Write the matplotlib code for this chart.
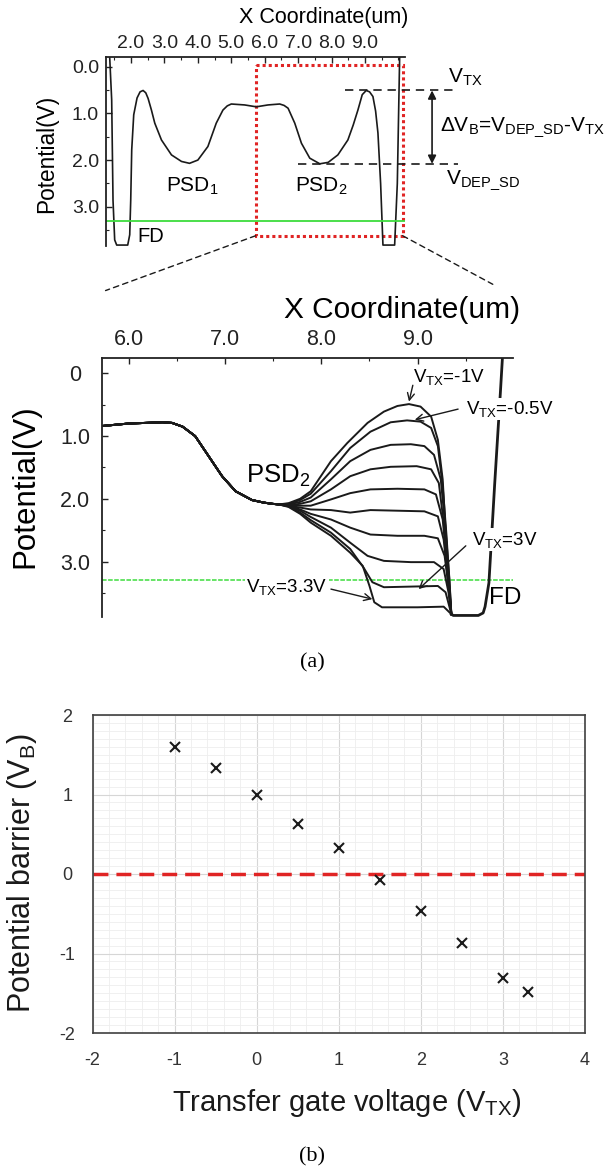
import matplotlib
matplotlib.use("Agg")
import matplotlib.pyplot as plt
from matplotlib.patches import Rectangle, ConnectionPatch
from matplotlib.ticker import MultipleLocator

plt.rcParams['font.family'] = ['Liberation Sans', 'DejaVu Sans']
plt.rcParams['mathtext.fontset'] = 'custom'
plt.rcParams['mathtext.rm'] = 'Liberation Sans'
plt.rcParams['axes.unicode_minus'] = False

# ---- data -------------------------------------------------------------
# overview potential profile (top panel), x in um, potential in V
overview_x = [1.36, 1.42, 1.46, 1.51, 1.57, 1.90, 1.96, 1.99, 2.02, 2.08, 2.18,
              2.27, 2.36, 2.44, 2.51, 2.61, 2.71, 2.91, 3.21, 3.51, 3.75, 4.00,
              4.30, 4.55, 4.75, 4.88, 5.00, 5.40, 5.75, 6.10, 6.45, 6.58, 6.70,
              6.90, 7.10, 7.35, 7.65, 7.90, 8.19, 8.49, 8.65, 8.79, 8.92, 9.04,
              9.14, 9.24, 9.32, 9.39, 9.47, 9.54, 9.89, 9.97, 10.04]
overview_y = [-0.21, 0.71, 2.86, 3.71, 3.82, 3.82, 3.60, 2.86, 1.78, 1.03, 0.67,
              0.54, 0.51, 0.56, 0.68, 0.93, 1.21, 1.57, 1.89, 2.03, 2.07, 2.00,
              1.71, 1.21, 0.93, 0.84, 0.80, 0.82, 0.86, 0.82, 0.80, 0.83, 0.89,
              1.21, 1.64, 1.96, 2.08, 2.05, 1.89, 1.57, 1.25, 0.93, 0.60, 0.51,
              0.54, 0.64, 0.95, 1.42, 2.50, 3.82, 3.82, 2.50, -0.21]

# zoomed PSD2 region: shared part of every curve
psd2_x = [5.72, 6.00, 6.35, 6.45, 6.56, 6.69, 6.83, 6.97, 7.11, 7.28, 7.40, 7.49, 7.56]
psd2_y = [0.84, 0.80, 0.78, 0.79, 0.85, 1.00, 1.32, 1.64, 1.88, 2.02, 2.06, 2.08, 2.09]

vtx_levels = [-1, -0.5, 0, 0.5, 1, 1.5, 2, 2.5, 3, 3.3]
fan_x = [
    [7.66, 7.78, 7.89, 8.10, 8.27, 8.48, 8.65, 8.79, 8.91, 9.03, 9.14, 9.21, 9.26, 9.29, 9.33, 9.35],
    [7.66, 7.78, 7.89, 8.10, 8.30, 8.51, 8.72, 8.89, 9.03, 9.14, 9.21, 9.26, 9.30, 9.33, 9.35],
    [7.66, 7.78, 7.89, 8.10, 8.30, 8.51, 8.72, 8.93, 9.07, 9.17, 9.24, 9.29, 9.32, 9.35],
    [7.66, 7.78, 7.89, 8.10, 8.30, 8.51, 8.72, 8.99, 9.14, 9.22, 9.27, 9.32, 9.35],
    [7.66, 7.78, 7.89, 8.10, 8.30, 8.51, 8.79, 9.07, 9.19, 9.26, 9.31, 9.35],
    [7.66, 7.78, 7.89, 8.10, 8.30, 8.51, 8.79, 9.07, 9.21, 9.27, 9.31, 9.35],
    [7.66, 7.78, 7.89, 8.10, 8.30, 8.51, 8.79, 9.07, 9.21, 9.28, 9.32, 9.35],
    [7.66, 7.78, 7.89, 8.10, 8.30, 8.48, 8.65, 8.93, 9.17, 9.27, 9.32, 9.35],
    [7.66, 7.78, 7.89, 8.10, 8.30, 8.44, 8.53, 8.65, 8.93, 9.21, 9.29, 9.35],
    [7.66, 7.78, 7.89, 8.10, 8.30, 8.43, 8.50, 8.55, 8.63, 9.00, 9.27, 9.35],
]
fan_y = [
    [2.07, 2.00, 1.88, 1.40, 1.11, 0.79, 0.61, 0.52, 0.49, 0.53, 0.69, 1.06, 1.69, 2.49, 3.28, 3.84],
    [2.08, 2.02, 1.92, 1.56, 1.19, 0.93, 0.78, 0.75, 0.77, 0.87, 1.16, 1.80, 2.59, 3.33, 3.84],
    [2.09, 2.05, 1.98, 1.69, 1.40, 1.22, 1.14, 1.13, 1.16, 1.30, 1.69, 2.49, 3.28, 3.84],
    [2.10, 2.08, 2.04, 1.85, 1.64, 1.53, 1.49, 1.48, 1.53, 1.75, 2.38, 3.23, 3.84],
    [2.10, 2.11, 2.11, 2.01, 1.91, 1.85, 1.84, 1.85, 1.93, 2.33, 3.12, 3.84],
    [2.11, 2.14, 2.17, 2.18, 2.22, 2.18, 2.19, 2.20, 2.28, 2.65, 3.23, 3.84],
    [2.11, 2.17, 2.24, 2.33, 2.46, 2.57, 2.59, 2.59, 2.63, 2.91, 3.39, 3.84],
    [2.12, 2.19, 2.29, 2.46, 2.70, 2.91, 2.99, 3.01, 3.01, 3.12, 3.49, 3.84],
    [2.12, 2.22, 2.34, 2.54, 2.80, 3.10, 3.33, 3.41, 3.40, 3.39, 3.49, 3.84],
    [2.13, 2.24, 2.38, 2.59, 2.86, 3.07, 3.39, 3.65, 3.73, 3.73, 3.72, 3.84],
]
fd_x = [9.35, 9.37, 9.63, 9.68, 9.70, 9.74, 9.80, 9.86, 9.88]
fd_y = [3.84, 3.86, 3.86, 3.82, 3.72, 3.34, 1.76, 0.28, -0.24]

# potential barrier vs transfer gate voltage (panel b)
barrier_vtx = [-1, -0.5, 0, 0.5, 1, 1.5, 2, 2.5, 3, 3.3]
barrier_vb = [1.60, 1.33, 1.00, 0.63, 0.33, -0.08, -0.46, -0.87, -1.31, -1.49]

V_FD_LEVEL = 3.3
V_TX_PEAK = 0.51
V_DEP_SD = 2.08

W, H = 613, 1173
fig = plt.figure(figsize=(W / 100, H / 100), dpi=100)


def px_axes(x0, y0, x1, y1):
    """Axes from pixel box (left, top, right, bottom)."""
    return fig.add_axes([x0 / W, 1 - y1 / H, (x1 - x0) / W, (y1 - y0) / H])


def origin_style(ax, fs):
    for s in ('right', 'bottom'):
        ax.spines[s].set_visible(False)
    for s in ('left', 'top'):
        ax.spines[s].set_linewidth(1.3)
        ax.spines[s].set_color('#222222')
    ax.xaxis.tick_top()
    ax.tick_params(which='both', direction='in', colors='#222222', labelsize=fs)
    ax.tick_params(which='major', length=4, width=1)
    ax.tick_params(which='minor', length=2.5, width=0.8)
    ax.tick_params(axis='y', which='both', right=False)
    ax.tick_params(axis='x', which='both', bottom=False)


# ---- top overview panel -----------------------------------------------
ax1 = px_axes(106, 57.3, 405, 246)
ax1.plot(overview_x, overview_y, color='#1a1a1a', lw=1.2)
ax1.axhline(V_FD_LEVEL, color='#3ddc3d', lw=1.3)
ax1.set_xlim(1.25, 10.2)
ax1.set_ylim(3.84, -0.20)
origin_style(ax1, 14)
ax1.set_xticks([2, 3, 4, 5, 6, 7, 8, 9])
ax1.set_xticklabels([f'{v:.1f}' for v in range(2, 10)])
ax1.xaxis.set_minor_locator(MultipleLocator(0.5))
ax1.set_yticks([0, 1, 2, 3])
ax1.set_yticklabels(['0.0', '1.0', '2.0', '3.0'])
ax1.yaxis.set_minor_locator(MultipleLocator(0.5))
ax1.tick_params(axis='x', pad=4)
ax1.tick_params(axis='y', pad=5)

box = Rectangle((5.73, -0.04), 10.13 - 5.73, 3.62 + 0.04, fill=False,
                edgecolor='#e02424', lw=2.2, linestyle=(0, (1, 1)), clip_on=False)
ax1.add_patch(box)

ax1.plot([8.40, 11.69], [V_TX_PEAK, V_TX_PEAK], color='#1a1a1a', lw=1.2,
         linestyle=(0, (5, 3.5)), clip_on=False)
ax1.plot([6.99, 11.78], [V_DEP_SD, V_DEP_SD], color='#1a1a1a', lw=1.2,
         linestyle=(0, (5, 3.5)), clip_on=False)
ax1.annotate('', xy=(11.01, V_TX_PEAK), xytext=(11.01, V_DEP_SD),
             arrowprops=dict(arrowstyle='<|-|>', lw=1.2, color='#1a1a1a',
                             mutation_scale=12, shrinkA=0, shrinkB=0),
             annotation_clip=False)
ax1.text(11.49, 0.23, r'$\mathregular{V_{TX}}$', fontsize=15, va='center',
         ha='left', clip_on=False)
ax1.text(11.24, 1.29, 'Δ' + r'$\mathregular{V_B}$=$\mathregular{V_{DEP\_SD}}$-$\mathregular{V_{TX}}$',
         fontsize=15, va='center', ha='left', clip_on=False)
ax1.text(11.44, 2.44, r'$\mathregular{V_{DEP\_SD}}$', fontsize=15, va='center',
         ha='left', clip_on=False)
ax1.text(3.83, 2.57, r'PSD$\mathregular{_1}$', fontsize=15, ha='center', va='center')
ax1.text(7.70, 2.57, r'PSD$\mathregular{_2}$', fontsize=15, ha='center', va='center')
ax1.text(2.20, 3.64, 'FD', fontsize=14.5, ha='left', va='center')

fig.text(324 / W, 1 - 17 / H, 'X Coordinate(um)', fontsize=15.5,
         ha='center', va='center')
fig.text(46.7 / W, 1 - 154 / H, 'Potential(V)', fontsize=16.3,
         rotation=90, ha='center', va='center')

# ---- zoomed PSD2 panel ------------------------------------------------
ax2 = px_axes(101.7, 358.3, 513, 616.7)
for xs, ys in zip(fan_x, fan_y):
    ax2.plot(psd2_x + xs, psd2_y + ys, color='#1a1a1a', lw=1.4)
ax2.plot(fd_x, fd_y, color='#1a1a1a', lw=2.0)
ax2.axhline(V_FD_LEVEL, color='#3ddc3d', lw=1.1, linestyle=(0, (3, 1)), zorder=1)
ax2.set_xlim(5.72, 9.99)
ax2.set_ylim(3.88, -0.24)
origin_style(ax2, 15.5)
ax2.set_xticks([6, 7, 8, 9])
ax2.set_xticklabels(['6.0', '7.0', '8.0', '9.0'])
ax2.xaxis.set_minor_locator(MultipleLocator(0.5))
ax2.set_yticks([0, 1, 2, 3])
ax2.set_yticklabels(['0', '1.0', '2.0', '3.0'], ha='center')
ax2.yaxis.set_minor_locator(MultipleLocator(0.5))
ax2.tick_params(axis='x', pad=6)
ax2.tick_params(axis='y', pad=19)

lbl = dict(fontsize=13.5, va='center', ha='left', clip_on=False)
wbox = dict(facecolor='white', edgecolor='none', pad=1)
arrow = dict(arrowstyle='->, head_length=0.5, head_width=0.25', lw=1.0,
             color='#1a1a1a', shrinkA=0, shrinkB=0)
ax2.text(8.95, 0.06, r'$\mathregular{V_{TX}}$=-1V', **lbl)
ax2.annotate('', xy=(8.91, 0.45), xytext=(8.95, 0.19), arrowprops=arrow)
ax2.text(9.50, 0.57, r'$\mathregular{V_{TX}}$=-0.5V', bbox=wbox, zorder=5, **lbl)
ax2.annotate('', xy=(8.97, 0.74), xytext=(9.42, 0.57), arrowprops=arrow)
ax2.text(9.56, 2.65, r'$\mathregular{V_{TX}}$=3V', bbox=wbox, zorder=5, **lbl)
ax2.annotate('', xy=(9.01, 3.44), xytext=(9.50, 2.75), arrowprops=arrow)
ax2.text(7.22, 3.41, r'$\mathregular{V_{TX}}$=3.3V', bbox=wbox, zorder=5, **lbl)
ax2.annotate('', xy=(8.53, 3.60), xytext=(8.10, 3.44), arrowprops=arrow)
ax2.text(7.55, 1.64, r'PSD$\mathregular{_2}$', fontsize=18.5, ha='center', va='center')
ax2.text(9.74, 3.58, 'FD', fontsize=17.5, ha='left', va='center', clip_on=False)

fig.text(402.5 / W, 1 - 310 / H, 'X Coordinate(um)', fontsize=21.5,
         ha='center', va='center')
fig.text(25 / W, 1 - 486 / H, 'Potential(V)', fontsize=22.5,
         rotation=90, ha='center', va='center')

# dashed zoom connectors from the red box to the zoomed panel
for a, b in [((5.73, 3.62), (5.76, -1.32)), ((10.13, 3.62), (9.78, -1.42))]:
    con = ConnectionPatch(xyA=a, coordsA=ax1.transData, xyB=b, coordsB=ax2.transData,
                          color='#1a1a1a', lw=1.0, linestyle=(0, (4, 3)))
    fig.add_artist(con)

fig.text(312 / W, 1 - 663 / H, '(a)', fontsize=16, family='Liberation Serif',
         ha='center', va='center')

# ---- panel (b): barrier vs transfer gate voltage ----------------------
ax3 = px_axes(92.6, 715, 585, 1033)
ax3.set_xlim(-2, 4)
ax3.set_ylim(-2, 2)
ax3.set_xticks(range(-2, 5))
ax3.set_yticks(range(-2, 3))
ax3.xaxis.set_minor_locator(MultipleLocator(0.2))
ax3.yaxis.set_minor_locator(MultipleLocator(0.1))
ax3.grid(which='major', color='#d6d6d6', lw=0.8)
ax3.grid(which='minor', color='#eeeeee', lw=0.6)
ax3.set_axisbelow(True)
ax3.axhline(0, color='#e02424', lw=2.5, linestyle=(0, (4.3, 2.3)))
ax3.plot(barrier_vtx, barrier_vb, linestyle='none', marker='x', color='#1a1a1a',
         markersize=7.5, markeredgewidth=1.5)
for s in ax3.spines.values():
    s.set_color('#404040')
    s.set_linewidth(1.2)
ax3.tick_params(which='both', length=0, labelsize=13, colors='#333333')
ax3.tick_params(axis='x', pad=14)
ax3.tick_params(axis='y', pad=18)
for t in ax3.get_yticklabels():
    t.set_horizontalalignment('center')

fig.text(347 / W, 1 - 1103 / H, r'Transfer gate voltage ($\mathregular{V_{TX}}$)',
         fontsize=21, ha='center', va='center', color='#1a1a1a')
fig.text(21.7 / W, 1 - 873 / H, r'Potential barrier ($\mathregular{V_B}$)',
         fontsize=22, rotation=90, ha='center', va='center', color='#1a1a1a')
fig.text(312 / W, 1 - 1157 / H, '(b)', fontsize=16, family='Liberation Serif',
         ha='center', va='center')

fig.savefig('out.png', dpi=100)
